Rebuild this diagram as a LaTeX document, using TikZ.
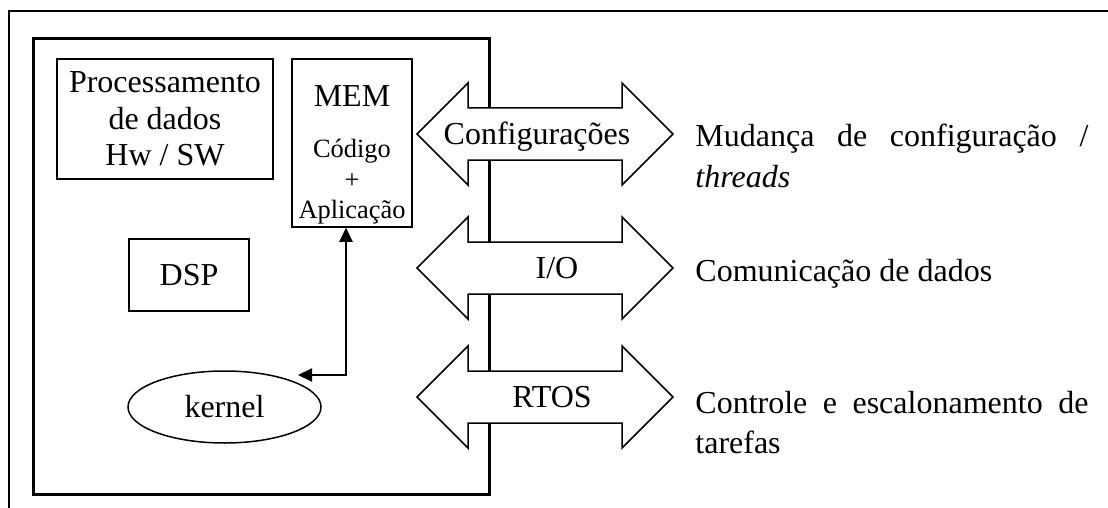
\documentclass[tikz,border=0pt]{standalone}
\usepackage{fontspec}
\setmainfont{Liberation Serif}
\usetikzlibrary{arrows.meta,shapes.geometric}

\newcommand{\letramenor}{\fontsize{13.2}{15.25}\selectfont}

\tikzset{
  caixa/.style={draw,line width=0.75pt,inner sep=0pt,align=center},
  texto/.style={inner sep=0pt,anchor=base},
  legenda/.style={inner sep=0pt,anchor=base west},
  barramento/.pic={
    \draw[line width=0.75pt,fill=white]
      (-128,0) -- (-77,-51) -- (-77,-26) -- (77,-26) -- (77,-51) -- (128,0)
      -- (77,51) -- (77,26) -- (-77,26) -- (-77,51) -- cycle;
  },
}

\begin{document}
\begin{tikzpicture}[x=0.5pt,y=-0.5pt,font=\fontsize{16}{20}\selectfont,
    >={Triangle[length=7pt,width=6.5pt]}]
  \useasboundingbox (0,0) rectangle (1108,508);

  % moldura e placa
  \draw[line width=1pt] (9,508) -- (9,11) -- (1108,11);
  \draw[line width=1.5pt] (33,39) rectangle (489,494);

  % blocos internos
  \node[caixa,minimum width=108pt,minimum height=60pt,
        font=\fontsize{16}{18.25}\selectfont] (proc) at (165,119)
        {Processamento\\de dados\\Hw / SW};
  \node[caixa,minimum width=60pt,minimum height=84pt] (mem) at (352,143) {};
  \node[texto] (memtit) at (352,107) {MEM};
  \node[texto,font=\letramenor] (cod) at (352,157) {Código};
  \node[texto,font=\letramenor] (mais) at (352,188) {+};
  \node[texto,font=\letramenor] (apl) at (352,218) {Aplicação};
  \node[caixa,minimum width=60pt,minimum height=36pt] (dsp) at (189,275) {DSP};
  \node[caixa,ellipse,minimum width=96.5pt,minimum height=36pt] (kernel) at (224.5,407) {kernel};

  \coordinate (kn) at (298,375);
  \draw[<->,line width=1pt] (kn) -| ([xshift=-3pt]mem.south);

  % barramentos
  \pic (cfg) at (545,134) {barramento};
  \pic (io) at (545,268) {barramento};
  \pic (rtos) at (545,397) {barramento};
  \node[texto] (cfgtxt) at (537,145) {Configurações};
  \node[texto] (iotxt) at (557,278.5) {I/O};
  \node[texto] (rtostxt) at (552,407.5) {RTOS};

  % legendas
  \node[legenda] (mud) at (695,147) {\makebox[196.5pt][s]{Mudança de configuração /}};
  \node[legenda] (thr) at (695,187) {\textit{threads}};
  \node[legenda] (com) at (695,281) {Comunicação de dados};
  \node[legenda] (ctl) at (695,413) {\makebox[196.5pt][s]{Controle e escalonamento de}};
  \node[legenda] (tar) at (695,453) {tarefas};
\end{tikzpicture}
\end{document}
